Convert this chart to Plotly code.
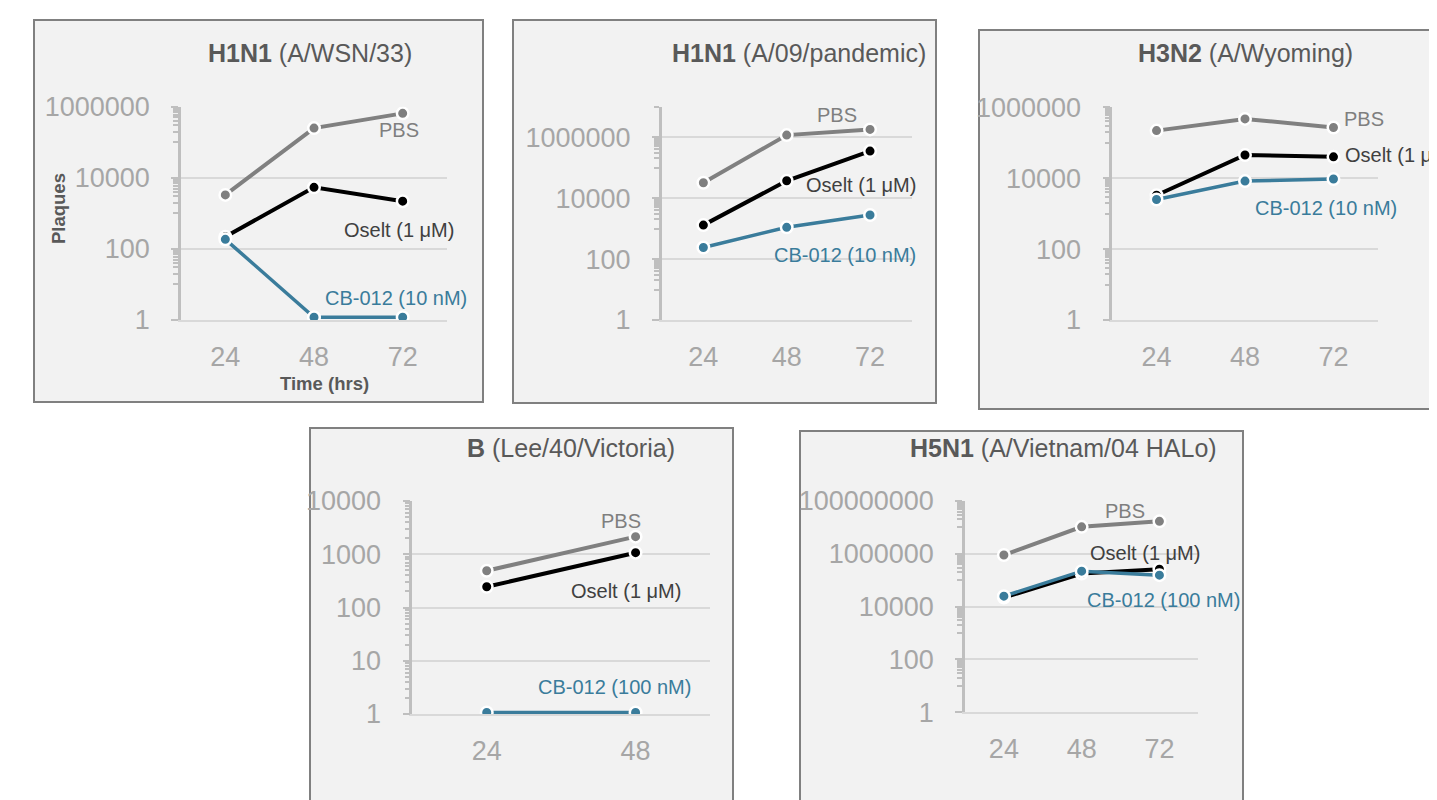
import math
import plotly.graph_objects as go

# page body adds an 8px margin: the figure is placed at (8, 8) in the window
OFF = 8
W, H = 1437 - OFF, 800 - OFF

# ---------------- data ----------------
hours3 = ["24", "48", "72"]
hours2 = ["24", "48"]

series_names = ["PBS", "Oselt (1 μM)", "CB-012"]

# H1N1 (A/WSN/33)
wsn_pbs = [3300, 250000, 650000]
wsn_oselt = [220, 5400, 2200]
wsn_cb = [186, 1.2, 1.2]

# H1N1 (A/09/pandemic)
pdm_pbs = [32000, 1170000, 1800000]
pdm_oselt = [1300, 37000, 350000]
pdm_cb = [240, 1100, 2800]

# H3N2 (A/Wyoming)
wyo_pbs = [220000, 470000, 270000]
wyo_oselt = [3300, 45000, 40000]
wyo_cb = [2500, 8300, 9500]

# B (Lee/40/Victoria)
lee_pbs = [490, 2140]
lee_oselt = [245, 1070]
lee_cb = [1.07, 1.07]

# H5N1 (A/Vietnam/04 HALo)
viet_pbs = [900000, 10500000, 17000000]
viet_oselt = [22000, 180000, 260000]
viet_cb = [25000, 220000, 156000]

ticks_base100_6 = [1, 100, 10000, 1000000]
ticks_base100_8 = [1, 100, 10000, 1000000, 100000000]
ticks_base10_4 = [1, 10, 100, 1000, 10000]

# ---------------- styling ----------------
FONT = "Liberation Sans, Arial, sans-serif"
C_PBS = "#808080"
C_OSE = "#000000"
C_CB = "#3A7C9B"
C_PBS_LBL = "#7F7F7F"
C_OSE_LBL = "#404040"
C_TICK = "#A6A6A6"
C_TITLE = "#595959"
C_GRID = "#D9D9D9"
C_AXIS = "#BFBFBF"

panels = [
    dict(bold="H1N1", rest="(A/WSN/33)", cats=hours3,
         pbs=wsn_pbs, ose=wsn_oselt, cb=wsn_cb, cb_lbl="CB-012 (10 nM)",
         px=(181, 447), py=(106.7, 320), top=6, major=ticks_base100_6, base=100,
         box=(34, 20, 483, 402), title_xy=(309.5, 53.3),
         lbl=dict(pbs=(-4, -17, "center"), ose=(-4, -29, "center"), cb=(-7, 19, "center"))),
    dict(bold="H1N1", rest="(A/09/pandemic)", cats=hours3,
         pbs=pdm_pbs, ose=pdm_oselt, cb=pdm_cb, cb_lbl="CB-012 (10 nM)",
         px=(661.7, 911.7), py=(106.7, 320), top=7, major=ticks_base100_6, base=100,
         box=(513, 20, 936, 403), title_xy=(799, 53.3),
         lbl=dict(pbs=(-33, 14, "center"), ose=(-9, -34, "center"), cb=(-25, -40, "center"))),
    dict(bold="H3N2", rest="(A/Wyoming)", cats=hours3,
         pbs=wyo_pbs, ose=wyo_oselt, cb=wyo_cb, cb_lbl="CB-012 (10 nM)",
         px=(1112.3, 1377.7), py=(107.3, 320), top=6, major=ticks_base100_6, base=100,
         box=(979, 30, 1450, 409), title_xy=(1245.7, 53.3),
         lbl=dict(pbs=(9, 8, "left"), ose=(10, 2, "left"), cb=(-7, -29, "center"))),
    dict(bold="B", rest="(Lee/40/Victoria)", cats=hours2,
         pbs=lee_pbs, ose=lee_oselt, cb=lee_cb, cb_lbl="CB-012 (100 nM)",
         px=(412.3, 710), py=(501, 714), top=4, major=ticks_base10_4, base=10,
         box=(310, 428, 733, 815), title_xy=(571, 448.3),
         lbl=dict(pbs=(-15, 16, "center"), ose=(-10, -38, "center"), cb=(-21, 25, "center"))),
    dict(bold="H5N1", rest="(A/Vietnam/04 HALo)", cats=hours3,
         pbs=viet_pbs, ose=viet_oselt, cb=viet_cb, cb_lbl="CB-012 (100 nM)",
         px=(965, 1198.3), py=(501, 712.3), top=8, major=ticks_base100_8, base=100,
         box=(800, 431, 1243, 815), title_xy=(1063, 448.3),
         lbl=dict(pbs=(-34, 10, "center"), ose=(-14, 16, "center"), cb=(4, -25, "center"))),
]


def fx(px):
    return (px - OFF) / W


def fy(py):
    return 1 - (py - OFF) / H


def minor_ticks(base, top):
    vals = []
    if base == 10:
        for n in range(0, top):
            vals += [k * 10 ** n for k in range(2, 10)]
    else:
        for n in range(1, top + 1, 2):
            vals += [k * 10 ** n for k in range(1, 10)]
    return [v for v in vals if v <= 10 ** top * 1.0001]


fig = go.Figure()
shapes = []
annotations = []
layout_axes = {}

for i, p in enumerate(panels, start=1):
    xs = "" if i == 1 else str(i)
    xname, yname = "x" + xs, "y" + xs

    traces = [
        (p["pbs"], C_PBS, 4),
        (p["ose"], C_OSE, 4),
        (p["cb"], C_CB, 3.5),
    ]
    for vals, col, lw in traces:
        fig.add_trace(go.Scatter(
            x=p["cats"], y=vals, mode="lines+markers", xaxis=xname, yaxis=yname,
            line=dict(color=col, width=lw),
            marker=dict(size=11.5, color=col, line=dict(color="white", width=2.5)),
            showlegend=False, hoverinfo="x+y",
        ))

    x0, x1 = p["px"]
    y0, y1 = p["py"]
    n = len(p["cats"])
    layout_axes["xaxis" + xs] = dict(
        domain=[fx(x0), fx(x1)], anchor=yname, type="category",
        categoryorder="array", categoryarray=p["cats"], range=[-0.5, n - 0.5],
        showline=True, linecolor=C_GRID, linewidth=1.5, ticks="", showgrid=False,
        zeroline=False, tickfont=dict(size=27, color=C_TICK, family=FONT),
        ticklabelstandoff=12, fixedrange=True, automargin=False,
    )
    layout_axes["yaxis" + xs] = dict(
        domain=[fy(y1), fy(y0)], anchor=xname, type="log",
        range=[0, p["top"]], tickmode="array", tickvals=p["major"],
        ticktext=[str(v) for v in p["major"]],
        showgrid=True, gridcolor=C_GRID, gridwidth=1.5,
        showline=True, linecolor=C_AXIS, linewidth=2.5,
        ticks="outside", ticklen=7, tickwidth=1.5, tickcolor=C_AXIS,
        minor=dict(tickmode="array", tickvals=minor_ticks(p["base"], p["top"]),
                   ticks="outside", ticklen=5, tickwidth=1.5, tickcolor=C_AXIS,
                   showgrid=False),
        zeroline=False, tickfont=dict(size=27, color=C_TICK, family=FONT),
        ticklabelstandoff=16, fixedrange=True, automargin=False,
    )

    bx0, by0, bx1, by1 = p["box"]
    shapes.append(dict(
        type="rect", xref="paper", yref="paper", layer="below",
        x0=fx(bx0), x1=fx(bx1), y0=fy(by1), y1=fy(by0),
        fillcolor="#F2F2F2", line=dict(color="#808080", width=2),
    ))

    tx, ty = p["title_xy"]
    annotations.append(dict(
        xref="paper", yref="paper", x=fx(tx), y=fy(ty),
        xanchor="center", yanchor="middle", showarrow=False,
        text="<b>%s</b> %s" % (p["bold"], p["rest"]),
        font=dict(size=25, color=C_TITLE, family=FONT),
    ))

    last_idx = n - 1
    for key, vals, txt, col in [
        ("pbs", p["pbs"], "PBS", C_PBS_LBL),
        ("ose", p["ose"], series_names[1], C_OSE_LBL),
        ("cb", p["cb"], p["cb_lbl"], C_CB),
    ]:
        dx, dy, anchor = p["lbl"][key]
        annotations.append(dict(
            xref=xname, yref=yname, x=last_idx, y=math.log10(vals[-1]),
            xshift=dx, yshift=dy, xanchor=anchor, yanchor="middle",
            showarrow=False, text=txt,
            font=dict(size=20, color=col, family=FONT),
        ))

# axis titles for first panel
annotations.append(dict(
    xref="paper", yref="paper", x=fx(58), y=fy(208), textangle=-90,
    xanchor="center", yanchor="middle", showarrow=False, text="<b>Plaques</b>",
    font=dict(size=18.5, color=C_TITLE, family=FONT),
))
annotations.append(dict(
    xref="paper", yref="paper", x=fx(324), y=fy(383),
    xanchor="center", yanchor="middle", showarrow=False, text="<b>Time (hrs)</b>",
    font=dict(size=18.5, color=C_TITLE, family=FONT),
))

fig.update_layout(
    width=W, height=H, margin=dict(l=0, r=0, t=0, b=0, pad=0, autoexpand=False),
    paper_bgcolor="white", plot_bgcolor="rgba(0,0,0,0)",
    font=dict(family=FONT), shapes=shapes, annotations=annotations,
    showlegend=False, **layout_axes,
)

fig.write_html("out.html")
